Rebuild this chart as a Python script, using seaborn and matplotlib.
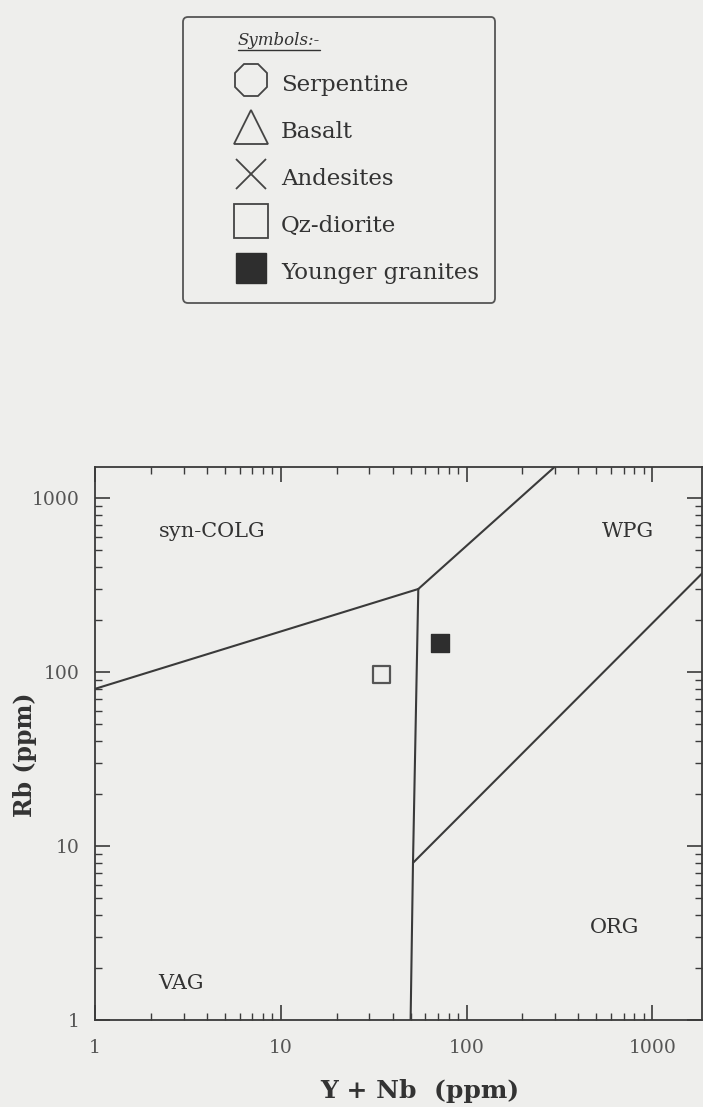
import pandas as pd
import matplotlib
matplotlib.use("Agg")
import matplotlib.pyplot as plt
from matplotlib.lines import Line2D
from matplotlib.ticker import LogLocator, NullFormatter
import seaborn as sns

# boundary lines of the Rb vs (Y+Nb) discrimination diagram
vag_colg_x = [1, 55]
vag_colg_y = [80, 300]
colg_wpg_x = [55, 400]
colg_wpg_y = [300, 2000]
vag_org_x = [55, 51.5, 50]
vag_org_y = [300, 8, 1]
wpg_org_x = [51.5, 2000]
wpg_org_y = [8, 400]

# samples
sample_names = ["Qz-diorite", "Younger granites"]
sample_x = [35, 72]
sample_y = [97, 147]

# field labels
field_names = ["syn-COLG", "WPG", "VAG", "ORG"]
field_x = [4.3, 740, 2.9, 630]
field_y = [640, 640, 1.63, 3.4]

tick_vals = [1, 10, 100, 1000]
tick_labels = ["1", "10", "100", "1000"]

legend_labels = ["Serpentine", "Basalt", "Andesites", "Qz-diorite", "Younger granites"]

BG = "#eeeeec"
INK = "#3a3a3a"


def draw_boundaries(ax):
    for xs, ys in [(vag_colg_x, vag_colg_y), (colg_wpg_x, colg_wpg_y),
                   (vag_org_x, vag_org_y), (wpg_org_x, wpg_org_y)]:
        df = pd.DataFrame({"x": xs, "y": ys})
        sns.lineplot(data=df, x="x", y="y", sort=False, estimator=None,
                     color=INK, lw=1.5, ax=ax)


def main():
    sns.set_style("ticks")
    plt.rcParams["font.family"] = ["DejaVu Serif"]

    fig = plt.figure(figsize=(7.03, 11.07), dpi=100, facecolor=BG)
    ax = fig.add_axes([0.1351, 0.0786, 0.8634, 0.4992], facecolor=BG)
    ax.set_xscale("log")
    ax.set_yscale("log")

    draw_boundaries(ax)

    samples = pd.DataFrame({"name": sample_names, "x": sample_x, "y": sample_y})
    sns.scatterplot(data=samples[samples.name == "Qz-diorite"], x="x", y="y",
                    marker="s", s=150, facecolor="none", edgecolor="#555555",
                    linewidth=1.6, ax=ax, legend=False)
    sns.scatterplot(data=samples[samples.name == "Younger granites"], x="x", y="y",
                    marker="s", s=150, color="#2e2e2e", edgecolor="#2e2e2e",
                    ax=ax, legend=False)

    for name, x, y in zip(field_names, field_x, field_y):
        ax.text(x, y, name, ha="center", va="center", fontsize=15, color="#333333")

    ax.set_xlim(1, 1850)
    ax.set_ylim(1, 1500)
    ax.set_xticks(tick_vals)
    ax.set_xticklabels(tick_labels)
    ax.set_yticks(tick_vals)
    ax.set_yticklabels(tick_labels)
    for axis in (ax.xaxis, ax.yaxis):
        axis.set_minor_locator(LogLocator(base=10, subs=range(2, 10)))
        axis.set_minor_formatter(NullFormatter())
    ax.tick_params(which="both", direction="in", top=True, right=True,
                   color=INK, labelcolor="#555555", labelsize=13.5)
    ax.tick_params(which="major", length=11, width=1.2)
    ax.tick_params(which="minor", length=5, width=1.0)
    ax.tick_params(axis="x", pad=14)
    ax.tick_params(axis="y", pad=11)
    for sp in ax.spines.values():
        sp.set_color(INK)
        sp.set_linewidth(1.3)

    ax.set_xlabel("Y + Nb  (ppm)", fontsize=18, fontweight="bold", color="#333333", va="center")
    ax.xaxis.set_label_coords(0.535, -0.128)
    ax.set_ylabel("Rb (ppm)", fontsize=17, fontweight="bold", color="#333333")
    ax.yaxis.set_label_coords(-0.096, 0.48)

    # symbol legend
    handles = [
        Line2D([], [], marker="8", ls="none", mfc="none", mec="#444444", ms=25, mew=1.3),
        Line2D([], [], marker="^", ls="none", mfc="none", mec="#444444", ms=24, mew=1.3),
        Line2D([], [], marker="x", ls="none", color="#444444", ms=22, mew=1.3),
        Line2D([], [], marker="s", ls="none", mfc="none", mec="#444444", ms=25, mew=1.3),
        Line2D([], [], marker="s", ls="none", mfc="#2e2e2e", mec="#2e2e2e", ms=21),
    ]
    leg = fig.legend(handles, legend_labels, loc="upper left",
                     bbox_to_anchor=(0.2603, 0.9846), borderaxespad=0,
                     frameon=True, fancybox=True,
                     edgecolor="#555555", facecolor=BG, framealpha=1,
                     fontsize=16.5, title=" ", title_fontsize=13,
                     alignment="left", handlelength=4.54, handleheight=1.6,
                     handletextpad=-0.96, labelspacing=0.77, borderpad=0.7)
    leg.get_frame().set_linewidth(1.3)
    for t in leg.get_texts():
        t.set_color("#333333")

    # legend heading, placed relative to the drawn legend frame
    fig.canvas.draw()
    fb = leg.get_frame().get_window_extent()
    W, H = fig.bbox.width, fig.bbox.height
    title = fig.text((fb.x0 + 55) / W, (fb.y1 - 23) / H, "Symbols:-",
                     style="italic", fontsize=12, color="#333333",
                     ha="left", va="center", zorder=10)
    fig.canvas.draw()
    tb = title.get_window_extent()
    fig.add_artist(Line2D([tb.x0 / W, tb.x1 / W], [(tb.y0 - 1) / H, (tb.y0 - 1) / H],
                          transform=fig.transFigure, color="#333333", lw=1.0,
                          zorder=10))

    fig.savefig("out.png", dpi=100, facecolor=BG)


if __name__ == "__main__":
    main()
